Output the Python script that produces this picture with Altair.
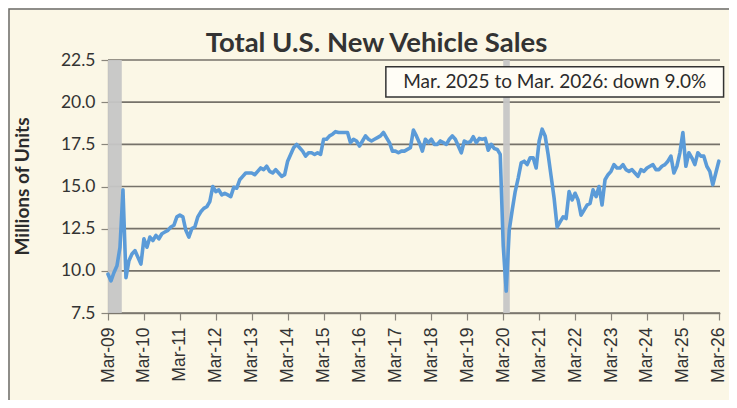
import altair as alt
import pandas as pd

# ---------------- data (SAAR, millions of units), monthly from Mar-2009 ----------------
start_year = 2009
start_month = 3
sales_2009 = [9.8, 9.4, 9.9, 10.3, 11.4, 14.8, 9.6, 10.6, 11.0, 11.2]            # Mar-Dec
sales_2010 = [10.8, 10.4, 11.9, 11.4, 12.0, 11.8, 12.1, 11.9, 12.2, 12.3, 12.4, 12.6]
sales_2011 = [12.7, 13.2, 13.3, 13.2, 12.4, 12.0, 12.5, 12.6, 13.2, 13.5, 13.7, 13.8]
sales_2012 = [14.1, 15.0, 14.7, 14.8, 14.5, 14.6, 14.5, 14.4, 14.95, 14.9, 15.4, 15.6]
sales_2013 = [15.8, 15.8, 15.8, 15.7, 15.9, 16.1, 16.0, 16.2, 15.9, 15.8, 16.0, 15.8]
sales_2014 = [15.6, 15.7, 16.5, 16.9, 17.3, 17.5, 17.3, 17.1, 16.8, 17.0, 17.0, 16.9]
sales_2015 = [17.0, 16.9, 17.8, 17.8, 18.0, 18.1, 18.25, 18.2, 18.2, 18.2, 18.2, 17.6]
sales_2016 = [17.8, 17.7, 17.4, 17.7, 18.0, 17.8, 17.7, 17.8, 17.9, 18.0, 18.2, 17.9]
sales_2017 = [17.6, 17.1, 17.1, 17.0, 17.1, 17.1, 17.2, 17.3, 18.35, 18.0, 17.6, 17.1]
sales_2018 = [17.8, 17.6, 17.8, 17.5, 17.5, 17.7, 17.6, 17.5, 17.8, 18.0, 17.8, 17.4]
sales_2019 = [17.0, 17.7, 17.6, 17.65, 17.95, 17.6, 17.85, 17.8, 17.85, 17.15, 17.5, 17.25]
sales_2020 = [17.2, 16.9, 11.5, 8.8, 12.4, 13.6, 14.7, 15.5, 16.4, 16.5, 16.3, 16.7]
sales_2021 = [16.7, 16.1, 17.7, 18.4, 18.0, 16.9, 15.6, 14.3, 12.6, 12.9, 13.2, 13.1]
sales_2022 = [14.7, 14.2, 14.6, 14.2, 13.3, 13.6, 13.9, 14.0, 14.8, 14.4, 15.0, 13.9]
sales_2023 = [15.4, 15.7, 15.9, 16.3, 16.1, 16.1, 16.3, 16.0, 15.9, 16.0, 15.8, 15.6]
sales_2024 = [16.0, 15.9, 16.1, 16.2, 16.3, 16.0, 16.0, 16.2, 16.3, 16.5, 16.8, 15.8]
sales_2025 = [16.2, 17.0, 18.2, 16.2, 17.0, 16.7, 16.3, 17.0, 16.8, 16.8, 16.2, 15.9]
sales_2026 = [15.1, 15.8, 16.5]                                                     # Jan-Mar

yearly = [sales_2009, sales_2010, sales_2011, sales_2012, sales_2013, sales_2014,
          sales_2015, sales_2016, sales_2017, sales_2018, sales_2019, sales_2020,
          sales_2021, sales_2022, sales_2023, sales_2024, sales_2025, sales_2026]

recession_start = [2009 + 2 / 12, 2020 + 2 / 12]
recession_end = [2009 + 6.6 / 12, 2020 + 4.2 / 12]

tick_years = list(range(2009, 2027))
y_ticks = [7.5, 10.0, 12.5, 15.0, 17.5, 20.0, 22.5]

chart_title = "Total U.S. New Vehicle Sales"
note_text = ["Mar. 2025 to Mar. 2026: down 9.0%"]
note_x = [2016.9]
note_x2 = [2026.3]
note_y = [22.1]
note_y2 = [20.3]

# ---------------- build tables ----------------
rows = []
for i, vals in enumerate(yearly):
    yr = start_year + i
    m0 = start_month if i == 0 else 1
    for k, v in enumerate(vals):
        m = m0 + k
        rows.append({"t": yr + (m - 1) / 12, "sales": v})
df = pd.DataFrame(rows)

x_dom = [2009 + 2 / 12, 2026 + 2.4 / 12]

grid_long = pd.DataFrame({"t": [x_dom[0]] * len(y_ticks) + [x_dom[1]] * len(y_ticks),
                          "gv": y_ticks + y_ticks})
bands = pd.DataFrame({"t": recession_start, "t2": recession_end,
                      "sales": [7.5] * 2, "sales2": [22.5] * 2})
note = pd.DataFrame({"label": note_text, "t": note_x, "t2": note_x2,
                     "sales": note_y, "sales2": note_y2,
                     "tm": [(a + b) / 2 for a, b in zip(note_x, note_x2)],
                     "sm": [(a + b) / 2 for a, b in zip(note_y, note_y2)]})
title_df = pd.DataFrame({"label": [chart_title]})

FONT = "Lato"
XFONT = "Liberation Sans"

x_scale = alt.Scale(domain=x_dom, nice=False, zero=False)
y_scale = alt.Scale(domain=[7.5, 22.5], nice=False, zero=False)

x_axis = alt.Axis(
    values=[y + 2 / 12 for y in tick_years],
    labelExpr="'Mar-' + substring(toString(floor(datum.value + 0.01)), 2, 4)",
    labelAngle=270, labelAlign="right", labelBaseline="middle",
    labelFont=XFONT, labelFontSize=17.5, labelColor="#333333", labelPadding=7,
    tickSize=7, tickColor="#8a867c", tickWidth=1.2,
    domainColor="#8a867c", domainWidth=1.3, grid=False, labelOverlap=False,
)
y_axis = alt.Axis(
    values=y_ticks, format=".1f",
    labelFont=FONT, labelFontSize=17.5, labelColor="#333333", labelPadding=6,
    tickSize=7, tickColor="#8a867c", tickWidth=1.2,
    domainColor="#a09c92", domainWidth=1.3, grid=False,
    titleFont=FONT, titleFontSize=19,
    titleFontWeight="bold", titleColor="#2b2b2b",
    titleAngle=270, titleX=-86, titleY=126,
    titleAlign="center", titleBaseline="middle",
)


def xe(field):
    return alt.X(field, type="quantitative", scale=x_scale, axis=x_axis, title=None)


def ye(field):
    return alt.Y(field, type="quantitative", scale=y_scale, axis=y_axis,
                 title="Millions of Units")


grid_lines = alt.Chart(grid_long).mark_line(color="#76726a", strokeWidth=1.7).encode(
    x=xe("t"), y=ye("gv"), detail="gv:N",
)

band_layer = alt.Chart(bands).mark_rect(color="#c6c6c6", opacity=0.95).encode(
    x=xe("t"), x2="t2:Q", y=ye("sales"), y2="sales2:Q",
)

line_layer = alt.Chart(df).mark_line(color="#5b9bd8", strokeWidth=3.6,
                                      strokeJoin="round", strokeCap="round").encode(
    x=xe("t"), y=ye("sales"),
)

note_box = alt.Chart(note).mark_rect(fill="#fffdf6", stroke="#333333",
                                      strokeWidth=1.5).encode(
    x=xe("t"), x2="t2:Q", y=ye("sales"), y2="sales2:Q",
)
note_txt = alt.Chart(note).mark_text(font=FONT, fontSize=19, color="#2b2b2b").encode(
    x=xe("tm"), y=ye("sm"), text="label:N",
)

title_txt = alt.Chart(title_df).mark_text(
    font=FONT, fontSize=27.5, fontWeight="bold", color="#333333",
    align="center", baseline="alphabetic",
).encode(x=alt.value(268.5), y=alt.value(-8), text="label:N")

frame = alt.Chart(title_df).mark_rect(fillOpacity=0, stroke="#6b6b6b", strokeWidth=1.5).encode(
    x=alt.value(-99), x2=alt.value(700), y=alt.value(-51), y2=alt.value(420),
)

chart = alt.layer(grid_lines, band_layer, line_layer, note_box, note_txt,
                  title_txt, frame).properties(
    width=612, height=253,
    autosize=alt.AutoSizeParams(type="none"),
    padding={"left": 100, "top": 52, "right": 9, "bottom": 87},
    background="#fbf7e6",
).configure_view(stroke=None)

chart.save("out.html", embed_options={"renderer": "svg", "actions": False})
